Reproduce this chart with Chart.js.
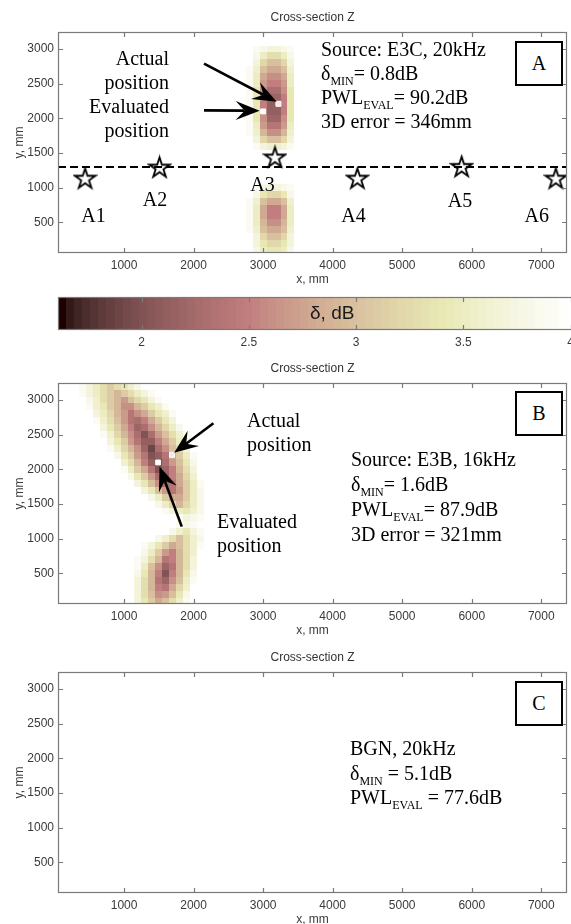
<!DOCTYPE html>
<html>
<head>
<meta charset="utf-8">
<title>Cross-section Z</title>
<script src="https://cdn.jsdelivr.net/npm/chart.js@4.4.1/dist/chart.umd.min.js"></script>
<style>
  body { margin: 0; width: 571px; height: 924px; overflow: hidden; background: #fff; position: relative; }
  canvas { position: absolute; left: 0; }
  .note { position: absolute; font-family: "Liberation Serif", "Times New Roman", serif; font-size: 20px; line-height: 24px; color: #000; white-space: nowrap; }
  .note sub { font-size: 12px; line-height: 0; vertical-align: -5px; }
  .tag { position: absolute; box-sizing: border-box; width: 48px; height: 45px; border: 2px solid #000; background: #fff;
         font-family: "Liberation Serif", serif; font-size: 20px; line-height: 41px; text-align: center; }
  .cbar-label { position: absolute; left: 310px; top: 302px; font-family: "Liberation Sans", Arial, sans-serif; font-size: 19px; line-height: 22px; color: #1a1a1a; }
</style>
</head>
<body>
<canvas id="panelA" width="571" height="292" style="top:0"></canvas>
<canvas id="cbar" width="580" height="62" style="top:290px"></canvas>
<canvas id="panelB" width="571" height="292" style="top:351px"></canvas>
<canvas id="panelC" width="571" height="292" style="top:640px"></canvas>

<div class="note" style="right:402px; top:46px; text-align:right">Actual<br>position<br>Evaluated<br>position</div>
<div class="note" style="left:321px; top:37px">Source: E3C, 20kHz<br>&delta;<sub>MIN</sub>= 0.8dB<br>PWL<sub>EVAL</sub>= 90.2dB<br>3D error = 346mm</div>
<div class="tag" style="left:515px; top:41px">A</div>

<div class="cbar-label">&delta;, dB</div>

<div class="note" style="left:247px; top:408px">Actual<br>position</div>
<div class="note" style="left:217px; top:509px">Evaluated<br>position</div>
<div class="note" style="left:351px; top:447px; line-height:25px">Source: E3B, 16kHz<br>&delta;<sub>MIN</sub>= 1.6dB<br>PWL<sub>EVAL</sub>= 87.9dB<br>3D error = 321mm</div>
<div class="tag" style="left:515px; top:391px">B</div>

<div class="note" style="left:350px; top:736px; line-height:24.5px">BGN, 20kHz<br>&delta;<sub>MIN</sub> = 5.1dB<br>PWL<sub>EVAL</sub> = 77.6dB</div>
<div class="tag" style="left:515px; top:681px">C</div>

<script>
// plot window (mm) and colour limits (dB)
const X_MIN = 50, X_MAX = 7370;
const Y_MIN = 60, Y_MAX = 3245;
const C_MIN = 1.61, C_MAX = 4.02;
const CELL = 100;

const xTicks = [1000, 2000, 3000, 4000, 5000, 6000, 7000];
const yTicks = [500, 1000, 1500, 2000, 2500, 3000];
const cbarTicks = [2, 2.5, 3, 3.5, 4];

// panel A: receivers A1..A6 along the measurement line
const starX = [440, 1510, 3170, 4355, 5855, 7210];
const starY = [1140, 1300, 1445, 1140, 1310, 1140];
const starNames = ['A1', 'A2', 'A3', 'A4', 'A5', 'A6'];
const nameX = [560, 1445, 2990, 4300, 5830, 6935];
const nameY = [580, 820, 1030, 580, 805, 580];
const lineX = [X_MIN, X_MAX];
const lineY = [1300, 1300];

// source positions [x, y]
const actualA = [3220, 2210];
const evaluatedA = [3000, 2100];
const actualB = [1690, 2210];
const evaluatedB = [1490, 2100];

// arrows [fromX, fromY, toX, toY]
const arrowsA = [[2150, 2790, 3195, 2240], [2150, 2115, 2950, 2110]];
const arrowsB = [[2285, 2665, 1720, 2240], [1830, 1175, 1510, 2040]];

// delta maps, 100 mm cells (values >= 4 dB render white)
const aUpperX = [2800, 2900, 3000, 3100, 3200, 3300, 3400];
const aUpperY = [3000, 2900, 2800, 2700, 2600, 2500, 2400, 2300, 2200, 2100, 2000, 1900, 1800, 1700, 1600];
const aUpperD = [
  [4.0, 3.9, 3.8, 3.7, 3.7, 3.8, 3.9],
  [4.0, 3.8, 3.5, 3.3, 3.3, 3.5, 3.8],
  [4.0, 3.7, 3.2, 3.0, 3.0, 3.2, 3.7],
  [3.9, 3.6, 3.0, 2.8, 2.8, 3.0, 3.6],
  [3.9, 3.5, 2.8, 2.6, 2.6, 2.8, 3.5],
  [3.9, 3.5, 2.7, 2.5, 2.5, 2.7, 3.5],
  [3.9, 3.4, 2.6, 2.3, 2.3, 2.6, 3.4],
  [3.9, 3.4, 2.6, 2.2, 2.2, 2.5, 3.4],
  [3.9, 3.4, 2.5, 2.1, 2.1, 2.5, 3.4],
  [3.9, 3.4, 2.5, 2.1, 2.1, 2.5, 3.4],
  [3.9, 3.4, 2.6, 2.2, 2.2, 2.6, 3.4],
  [3.9, 3.5, 2.7, 2.4, 2.4, 2.7, 3.5],
  [3.9, 3.6, 2.9, 2.6, 2.6, 2.9, 3.6],
  [4.0, 3.7, 3.2, 3.0, 3.0, 3.2, 3.7],
  [4.0, 3.9, 3.7, 3.6, 3.6, 3.7, 3.9]
];
const aLowerX = [2800, 2900, 3000, 3100, 3200, 3300, 3400];
const aLowerY = [1000, 900, 800, 700, 600, 500, 400, 300, 200, 100];
const aLowerD = [
  [4.0, 3.9, 3.8, 3.7, 3.7, 3.8, 3.9],
  [4.0, 3.8, 3.4, 3.2, 3.2, 3.4, 3.8],
  [3.9, 3.6, 3.0, 2.8, 2.8, 3.0, 3.6],
  [3.9, 3.5, 2.8, 2.5, 2.5, 2.8, 3.5],
  [3.9, 3.5, 2.8, 2.5, 2.5, 2.8, 3.5],
  [3.9, 3.5, 2.9, 2.6, 2.6, 2.9, 3.5],
  [3.9, 3.6, 3.0, 2.8, 2.8, 3.0, 3.6],
  [4.0, 3.7, 3.2, 3.0, 3.0, 3.2, 3.7],
  [4.0, 3.7, 3.4, 3.2, 3.2, 3.4, 3.7],
  [4.0, 3.8, 3.5, 3.4, 3.4, 3.5, 3.8]
];

const bUpperX = [300, 400, 500, 600, 700, 800, 900, 1000, 1100, 1200, 1300, 1400, 1500, 1600, 1700, 1800, 1900, 2000, 2100, 2200];
const bUpperY = [3200, 3100, 3000, 2900, 2800, 2700, 2600, 2500, 2400, 2300, 2200, 2100, 2000, 1900, 1800, 1700, 1600, 1500, 1400, 1300];
const bUpperD = [
  [4, 3.9, 3.7, 3.5, 3.3, 3.1, 3.3, 3.4, 3.6, 3.8, 4, 4, 4, 4, 4, 4, 4, 4, 4, 4],
  [4, 3.9, 3.7, 3.5, 3.3, 3.1, 2.9, 3.1, 3.3, 3.5, 3.7, 3.9, 4, 4, 4, 4, 4, 4, 4, 4],
  [4, 4, 3.8, 3.6, 3.3, 3.1, 2.9, 2.7, 3.0, 3.2, 3.4, 3.7, 3.9, 4, 4, 4, 4, 4, 4, 4],
  [4, 4, 3.9, 3.6, 3.4, 3.1, 2.9, 2.6, 2.6, 2.9, 3.1, 3.4, 3.6, 3.9, 4, 4, 4, 4, 4, 4],
  [4, 4, 4, 3.7, 3.5, 3.2, 2.9, 2.7, 2.4, 2.6, 2.8, 3.1, 3.4, 3.6, 3.9, 4, 4, 4, 4, 4],
  [4, 4, 4, 3.9, 3.6, 3.3, 3.0, 2.7, 2.4, 2.3, 2.5, 2.8, 3.1, 3.4, 3.7, 4, 4, 4, 4, 4],
  [4, 4, 4, 4, 3.7, 3.4, 3.1, 2.8, 2.5, 2.2, 2.3, 2.6, 2.9, 3.2, 3.5, 3.8, 4, 4, 4, 4],
  [4, 4, 4, 4, 3.9, 3.6, 3.2, 2.9, 2.6, 2.3, 2.0, 2.3, 2.7, 3.0, 3.3, 3.6, 3.9, 4, 4, 4],
  [4, 4, 4, 4, 4, 3.7, 3.4, 3.1, 2.7, 2.4, 2.1, 2.1, 2.5, 2.8, 3.1, 3.5, 3.8, 4, 4, 4],
  [4, 4, 4, 4, 4, 3.9, 3.6, 3.2, 2.9, 2.6, 2.2, 1.9, 2.3, 2.6, 3.0, 3.3, 3.7, 4, 4, 4],
  [4, 4, 4, 4, 4, 4, 3.8, 3.4, 3.1, 2.7, 2.4, 2.0, 2.1, 2.4, 2.8, 3.1, 3.5, 3.9, 4, 4],
  [4, 4, 4, 4, 4, 4, 4, 3.6, 3.3, 2.9, 2.5, 2.1, 1.9, 2.3, 2.7, 3.0, 3.4, 3.8, 4, 4],
  [4, 4, 4, 4, 4, 4, 4, 3.9, 3.5, 3.1, 2.8, 2.4, 2.0, 2.2, 2.5, 2.9, 3.3, 3.7, 4, 4],
  [4, 4, 4, 4, 4, 4, 4, 4, 3.8, 3.4, 3.1, 2.7, 2.3, 2.1, 2.5, 2.8, 3.2, 3.6, 4, 4],
  [4, 4, 4, 4, 4, 4, 4, 4, 4, 3.7, 3.4, 3.0, 2.6, 2.3, 2.4, 2.8, 3.1, 3.5, 3.9, 4],
  [4, 4, 4, 4, 4, 4, 4, 4, 4, 4, 3.7, 3.4, 3.0, 2.7, 2.4, 2.7, 3.1, 3.5, 3.8, 4],
  [4, 4, 4, 4, 4, 4, 4, 4, 4, 4, 4, 3.8, 3.5, 3.1, 2.8, 2.8, 3.1, 3.5, 3.8, 4],
  [4, 4, 4, 4, 4, 4, 4, 4, 4, 4, 4, 4, 3.8, 3.5, 3.2, 2.9, 3.2, 3.5, 3.8, 4],
  [4, 4, 4, 4, 4, 4, 4, 4, 4, 4, 4, 4, 4, 3.9, 3.7, 3.5, 3.4, 3.6, 3.8, 4],
  [4, 4, 4, 4, 4, 4, 4, 4, 4, 4, 4, 4, 4, 4, 4, 3.9, 3.7, 3.8, 3.9, 4]
];
const bLowerX = [1000, 1100, 1200, 1300, 1400, 1500, 1600, 1700, 1800, 1900, 2000, 2100, 2200];
const bLowerY = [1200, 1100, 1000, 900, 800, 700, 600, 500, 400, 300, 200, 100];
const bLowerD = [
  [4, 4, 4, 4, 4, 4, 4, 4, 3.9, 3.8, 3.9, 4, 4],
  [4, 4, 4, 4, 4, 4, 4, 3.8, 3.6, 3.4, 3.7, 3.9, 4],
  [4, 4, 4, 4, 4, 3.8, 3.6, 3.3, 3.0, 3.3, 3.6, 3.8, 4],
  [4, 4, 4, 3.9, 3.7, 3.4, 3.1, 2.8, 3.0, 3.3, 3.6, 3.9, 4],
  [4, 4, 4, 3.8, 3.5, 3.1, 2.7, 2.5, 2.9, 3.3, 3.6, 4, 4],
  [4, 4, 3.9, 3.7, 3.3, 2.9, 2.4, 2.5, 2.9, 3.3, 3.7, 4, 4],
  [4, 4, 3.9, 3.5, 3.0, 2.6, 2.2, 2.4, 2.9, 3.3, 3.7, 4, 4],
  [4, 4, 3.8, 3.4, 2.9, 2.5, 2.0, 2.5, 2.9, 3.4, 3.8, 4, 4],
  [4, 4, 3.7, 3.3, 2.9, 2.4, 2.2, 2.6, 3.0, 3.5, 3.9, 4, 4],
  [4, 4, 3.7, 3.3, 2.9, 2.5, 2.4, 2.8, 3.2, 3.6, 4, 4, 4],
  [4, 4, 3.7, 3.3, 3.0, 2.6, 2.7, 3.0, 3.4, 3.8, 4, 4, 4],
  [4, 4, 3.7, 3.4, 3.1, 2.8, 3.0, 3.3, 3.6, 3.9, 4, 4, 4]
];

const tickFont = { family: 'Liberation Sans, Arial, sans-serif', size: 12 };
const tickColor = '#3a3a3a';
const frameColor = '#7a7a7a';

// 64-step "pink" colour map: sqrt((2*gray + hot) / 3)
function pinkColour(i) {
  const g = i / 63;
  const hr = i < 24 ? (i + 1) / 24 : 1;
  const hg = i < 24 ? 0 : (i < 48 ? (i - 23) / 24 : 1);
  const hb = i < 48 ? 0 : (i - 47) / 16;
  const ch = h => Math.round(255 * Math.sqrt((2 * g + h) / 3));
  return 'rgb(' + ch(hr) + ',' + ch(hg) + ',' + ch(hb) + ')';
}

function colourFor(v) {
  const i = Math.floor((v - C_MIN) / (C_MAX - C_MIN) * 64);
  return pinkColour(Math.min(63, Math.max(0, i)));
}

function toCells(xs, ys, rows) {
  const out = [];
  rows.forEach((row, j) => row.forEach((v, i) => out.push({ x: xs[i], y: ys[j], v: v })));
  return out;
}

function toPoints(xs, ys) {
  return xs.map((x, i) => ({ x: x, y: ys[i] }));
}

// open five-pointed star marker
function makeStar(size, lw) {
  const c = document.createElement('canvas');
  c.width = c.height = size;
  const g = c.getContext('2d');
  const R = size / 2 - lw, r = R * 0.382, cx = size / 2, cy = size / 2 + R * 0.1;
  g.beginPath();
  for (let k = 0; k < 10; k++) {
    const rad = k % 2 ? r : R;
    const a = -Math.PI / 2 + k * Math.PI / 5;
    g.lineTo(cx + rad * Math.cos(a), cy + rad * Math.sin(a));
  }
  g.closePath();
  g.lineWidth = lw;
  g.strokeStyle = '#000';
  g.stroke();
  return c;
}

const cellPlugin = {
  id: 'cells',
  beforeDatasetsDraw(chart, args, opts) {
    const { ctx, chartArea: a, scales: { x, y } } = chart;
    ctx.save();
    ctx.beginPath();
    ctx.rect(a.left, a.top, a.width, a.height);
    ctx.clip();
    (opts.cells || []).forEach(c => {
      if (c.v >= 4) return;
      const x0 = Math.round(x.getPixelForValue(c.x - CELL / 2));
      const x1 = Math.round(x.getPixelForValue(c.x + CELL / 2));
      const y0 = Math.round(y.getPixelForValue(c.y + CELL / 2));
      const y1 = Math.round(y.getPixelForValue(c.y - CELL / 2));
      ctx.fillStyle = colourFor(c.v);
      ctx.fillRect(x0, y0, x1 - x0, y1 - y0);
    });
    ctx.restore();
  }
};

const colourbarPlugin = {
  id: 'colourbar',
  beforeDatasetsDraw(chart) {
    const { ctx, chartArea: a, scales: { x } } = chart;
    const step = (C_MAX - C_MIN) / 64;
    for (let i = 0; i < 64; i++) {
      const x0 = Math.round(x.getPixelForValue(C_MIN + i * step));
      const x1 = Math.round(x.getPixelForValue(C_MIN + (i + 1) * step));
      ctx.fillStyle = pinkColour(i);
      ctx.fillRect(x0, a.top, x1 - x0, a.height);
    }
  }
};

// box round the axes with short inward ticks on every side
const framePlugin = {
  id: 'frame',
  afterDraw(chart, args, opts) {
    const { ctx, chartArea: a, scales } = chart;
    ctx.save();
    ctx.strokeStyle = frameColor;
    ctx.lineWidth = 1.2;
    ctx.strokeRect(Math.round(a.left) + 0.5, Math.round(a.top) + 0.5, Math.round(a.width) - 1, Math.round(a.height) - 1);
    ctx.beginPath();
    scales.x.ticks.forEach(t => {
      const p = Math.round(scales.x.getPixelForValue(t.value)) + 0.5;
      ctx.moveTo(p, a.bottom); ctx.lineTo(p, a.bottom - 5);
      ctx.moveTo(p, a.top); ctx.lineTo(p, a.top + 5);
    });
    if (opts.yTicks) {
      scales.y.ticks.forEach(t => {
        const p = Math.round(scales.y.getPixelForValue(t.value)) + 0.5;
        ctx.moveTo(a.left, p); ctx.lineTo(a.left + 5, p);
        ctx.moveTo(a.right, p); ctx.lineTo(a.right - 5, p);
      });
    }
    ctx.stroke();
    ctx.restore();
  }
};

const arrowPlugin = {
  id: 'arrows',
  afterDatasetsDraw(chart, args, opts) {
    const { ctx, scales: { x, y } } = chart;
    (opts.list || []).forEach(([fx, fy, tx, ty]) => {
      const x0 = x.getPixelForValue(fx), y0 = y.getPixelForValue(fy);
      const x1 = x.getPixelForValue(tx), y1 = y.getPixelForValue(ty);
      const len = Math.hypot(x1 - x0, y1 - y0);
      const ux = (x1 - x0) / len, uy = (y1 - y0) / len, nx = -uy, ny = ux;
      const L = 24, W = 9.5, B = 15;
      ctx.save();
      ctx.strokeStyle = '#000';
      ctx.fillStyle = '#000';
      ctx.lineWidth = 2.6;
      ctx.beginPath();
      ctx.moveTo(x0, y0);
      ctx.lineTo(x1 - ux * B, y1 - uy * B);
      ctx.stroke();
      ctx.beginPath();
      ctx.moveTo(x1, y1);
      ctx.lineTo(x1 - ux * L + nx * W, y1 - uy * L + ny * W);
      ctx.lineTo(x1 - ux * B, y1 - uy * B);
      ctx.lineTo(x1 - ux * L - nx * W, y1 - uy * L - ny * W);
      ctx.closePath();
      ctx.fill();
      ctx.restore();
    });
  }
};

const namePlugin = {
  id: 'names',
  afterDatasetsDraw(chart, args, opts) {
    if (!opts.text) return;
    const { ctx, scales: { x, y } } = chart;
    ctx.save();
    ctx.font = '20px "Liberation Serif", "Times New Roman", serif';
    ctx.fillStyle = '#000';
    ctx.textAlign = 'center';
    ctx.textBaseline = 'middle';
    opts.text.forEach((t, i) => ctx.fillText(t, x.getPixelForValue(opts.x[i]), y.getPixelForValue(opts.y[i])));
    ctx.restore();
  }
};

function xAxis() {
  return {
    type: 'linear', min: X_MIN, max: X_MAX,
    grid: { display: false, drawTicks: false },
    border: { display: false },
    afterBuildTicks: s => { s.ticks = xTicks.map(v => ({ value: v })); },
    ticks: { font: tickFont, color: tickColor, padding: 5, maxRotation: 0, autoSkip: false, callback: v => String(v) },
    title: { display: true, text: 'x, mm', font: tickFont, color: tickColor, padding: { top: 0, bottom: 5 } },
    afterFit: s => { s.height = 39; s.paddingLeft = 0; s.paddingRight = 0; }
  };
}

function yAxis() {
  return {
    type: 'linear', min: Y_MIN, max: Y_MAX,
    grid: { display: false, drawTicks: false },
    border: { display: false },
    afterBuildTicks: s => { s.ticks = yTicks.map(v => ({ value: v })); },
    ticks: { font: tickFont, color: tickColor, padding: 4, autoSkip: false, callback: v => String(v) },
    title: { display: true, text: 'y, mm', font: tickFont, color: tickColor, padding: { top: 12, bottom: 0 } },
    afterFit: s => { s.width = 58; s.paddingTop = 0; s.paddingBottom = 0; }
  };
}

function panel(id, cells, datasets, arrows, names) {
  return new Chart(document.getElementById(id), {
    type: 'scatter',
    data: { datasets: datasets },
    options: {
      responsive: false,
      animation: false,
      events: [],
      layout: { autoPadding: false, padding: { right: 4 } },
      scales: { x: xAxis(), y: yAxis() },
      plugins: {
        legend: { display: false },
        tooltip: { enabled: false },
        title: {
          display: true, text: 'Cross-section Z', fullSize: false,
          font: { family: 'Liberation Sans, Arial, sans-serif', size: 12, weight: 'normal' },
          color: '#333', padding: { top: 10, bottom: 7.6 }
        },
        cells: { cells: cells },
        frame: { yTicks: true },
        arrows: { list: arrows },
        names: names || {}
      }
    },
    plugins: [cellPlugin, arrowPlugin, namePlugin, framePlugin]
  });
}

function markerSets(actual, evaluated) {
  return [
    { type: 'scatter', data: [{ x: actual[0], y: actual[1] }], pointStyle: 'rect', pointRadius: 3.5,
      backgroundColor: '#f6e6e2', borderColor: '#fff', borderWidth: 1 },
    { type: 'scatter', data: [{ x: evaluated[0], y: evaluated[1] }], pointStyle: 'rect', pointRadius: 3.5,
      backgroundColor: '#fff', borderColor: '#fff', borderWidth: 1 }
  ];
}

const star = makeStar(25, 1.8);

panel('panelA',
  toCells(aUpperX, aUpperY, aUpperD).concat(toCells(aLowerX, aLowerY, aLowerD)),
  [
    { type: 'line', data: toPoints(lineX, lineY), borderColor: '#000', borderWidth: 2, borderDash: [8, 4], pointRadius: 0, fill: false },
    { type: 'scatter', data: toPoints(starX, starY), pointStyle: star, pointRadius: 10 }
  ].concat(markerSets(actualA, evaluatedA)),
  arrowsA,
  { text: starNames, x: nameX, y: nameY }
);

panel('panelB',
  toCells(bUpperX, bUpperY, bUpperD).concat(toCells(bLowerX, bLowerY, bLowerD)),
  markerSets(actualB, evaluatedB),
  arrowsB
);

panel('panelC', [], [], []);

// colour scale strip
new Chart(document.getElementById('cbar'), {
  type: 'scatter',
  data: { datasets: [] },
  options: {
    responsive: false,
    animation: false,
    events: [],
    layout: { autoPadding: false, padding: { left: 58, top: 7, right: 5, bottom: 0 } },
    scales: {
      x: {
        type: 'linear', min: C_MIN, max: C_MAX,
        grid: { display: false, drawTicks: false },
        border: { display: false },
        afterBuildTicks: s => { s.ticks = cbarTicks.map(v => ({ value: v })); },
        ticks: { font: tickFont, color: tickColor, padding: 5, maxRotation: 0, autoSkip: false, callback: v => String(v) },
        afterFit: s => { s.height = 22; s.paddingLeft = 0; s.paddingRight = 0; }
      },
      y: { display: false, min: 0, max: 1 }
    },
    plugins: { legend: { display: false }, tooltip: { enabled: false }, frame: { yTicks: false } }
  },
  plugins: [colourbarPlugin, framePlugin]
});
</script>
</body>
</html>
